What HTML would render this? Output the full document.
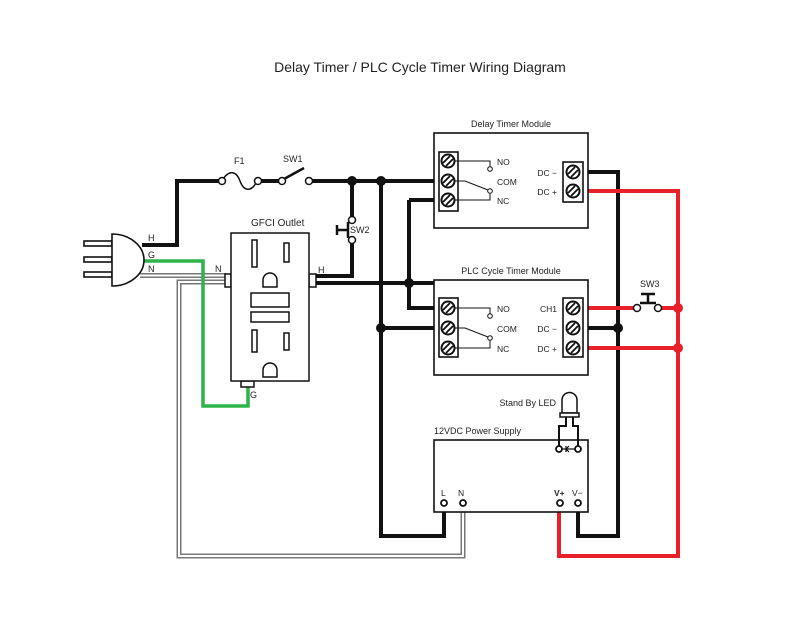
<!DOCTYPE html>
<html><head><style>
html,body{margin:0;padding:0;background:#fff;}
svg{display:block;font-family:"Liberation Sans",sans-serif;}
</style></head><body>
<svg width="800" height="625" viewBox="0 0 800 625" xmlns="http://www.w3.org/2000/svg">
<rect width="800" height="625" fill="#fff"/>
<text x="420" y="72" font-size="14" text-anchor="middle" fill="#222">Delay Timer / PLC Cycle Timer Wiring Diagram</text>

<g fill="none" stroke-linejoin="miter">
<path d="M140 275.5 H226" stroke="#777" stroke-width="5"/>
<path d="M140 275.5 H226" stroke="#fff" stroke-width="2"/>
<path d="M226 282 H179 V556 H463 V503" stroke="#777" stroke-width="5"/>
<path d="M226 282 H179 V556 H463 V503" stroke="#fff" stroke-width="2"/>
</g>
<path d="M142 261 H203 V406 H248 V386" fill="none" stroke="#2db34a" stroke-width="3.5"/>

<g fill="none" stroke="#111" stroke-width="4">
<path d="M142 245 H177 V181 H220"/>
<path d="M309 181 H440"/>
<path d="M352 181 V217"/>
<path d="M352 243 V276 H316"/>
<path d="M316 283 H440"/>
<path d="M409 200 H440"/>
<path d="M409 200 V308 H440"/>
<path d="M381 181 V536 H444 V506"/>
<path d="M381 328 H440"/>
<path d="M583 172 H618 V536 H578 V506"/>
<path d="M583 328 H618"/>
<path d="M259 181 H280"/>
</g>
<g fill="none" stroke="#e8202a" stroke-width="4">
<path d="M583 191 H678 V556 H559 V506"/>
<path d="M583 308 H634"/>
<path d="M661 308 H678"/>
<path d="M583 348 H678"/>
</g>
<circle cx="678" cy="308" r="5" fill="#e8202a"/>
<circle cx="678" cy="348" r="5" fill="#e8202a"/>
<g fill="#111">
<circle cx="352" cy="181" r="5"/><circle cx="381" cy="181" r="5"/>
<circle cx="409" cy="283" r="5"/><circle cx="381" cy="328" r="5"/>
<circle cx="618" cy="328" r="5"/>
</g>

<g stroke="#111" stroke-width="1.6" fill="#fff">
<rect x="84" y="241" width="28" height="5"/>
<rect x="84" y="257" width="28" height="5"/>
<rect x="84" y="272" width="28" height="5"/>
<path d="M112 234 A32 26 0 0 1 112 286 Z"/>
</g>
<g font-size="9" fill="#222">
<text x="148" y="241">H</text><text x="148" y="258">G</text><text x="148" y="272">N</text>
<text x="215" y="272">N</text><text x="318" y="273">H</text><text x="250" y="398">G</text>
<text x="234" y="164">F1</text><text x="283" y="162">SW1</text>
<text x="350" y="233">SW2</text><text x="251" y="226" font-size="10">GFCI Outlet</text>
<text x="640" y="287">SW3</text>
</g>

<g fill="#fff" stroke="#111" stroke-width="1.5">
<path d="M222 181 C228 170 236 170 240 181 C244 192 252 192 257 181" fill="none"/>
<circle cx="222" cy="181" r="3.5"/><circle cx="258" cy="181" r="3.5"/>
<path d="M284 179 L304 168" fill="none" stroke-width="2.5"/>
<circle cx="282" cy="181" r="3.5"/><circle cx="309" cy="181" r="3.5"/>
<path d="M348 222 V238 M348 230 H337 M337 225 V235" fill="none" stroke-width="2.5"/>
<circle cx="352" cy="220" r="3.5"/><circle cx="352" cy="240" r="3.5"/>
<path d="M640 303 H656 M648 303 V294 M641 294 H655" fill="none" stroke-width="2.5"/>
<circle cx="637" cy="308" r="3.5"/><circle cx="658" cy="308" r="3.5"/>
</g>

<g stroke="#111" stroke-width="1.5" fill="#fff">
<rect x="225" y="274" width="6" height="13"/>
<rect x="309" y="274" width="7" height="13"/>
<rect x="241" y="381" width="13" height="6"/>
<rect x="231" y="233" width="78" height="148"/>
<rect x="252" y="240" width="5" height="27"/>
<rect x="284" y="243" width="5" height="19"/>
<path d="M263 287 V280 A7 7 0 0 1 277 280 V287 Z"/>
<rect x="251" y="293" width="38" height="14"/>
<rect x="251" y="312" width="38" height="10"/>
<rect x="252" y="330" width="5" height="22"/>
<rect x="284" y="333" width="5" height="17"/>
<path d="M263 377 V370 A7 7 0 0 1 277 370 V377 Z"/>
</g>

<g stroke="#111" stroke-width="1.6" fill="#fff">
<rect x="434" y="133" width="154" height="95"/>
<rect x="434" y="280" width="154" height="95"/>
<rect x="434" y="440" width="154" height="72"/>
<rect x="439" y="152" width="19" height="59"/>
<rect x="439" y="298" width="19" height="59"/>
<rect x="563" y="162" width="20" height="40"/>
<rect x="563" y="298" width="20" height="59"/>
</g>
<g font-size="9" fill="#222">
<text x="511" y="127" text-anchor="middle">Delay Timer Module</text>
<text x="511" y="274" text-anchor="middle">PLC Cycle Timer Module</text>
<text x="434" y="434">12VDC Power Supply</text>
<text x="556" y="406" text-anchor="end">Stand By LED</text>
</g>
<g stroke="#111" stroke-width="2" fill="#fff">
<circle cx="448" cy="161" r="6.5"/><circle cx="448" cy="181" r="6.5"/><circle cx="448" cy="200" r="6.5"/>
<circle cx="573" cy="172" r="6.5"/><circle cx="573" cy="191" r="6.5"/>
<circle cx="448" cy="308" r="6.5"/><circle cx="448" cy="328" r="6.5"/><circle cx="448" cy="348" r="6.5"/>
<circle cx="573" cy="308" r="6.5"/><circle cx="573" cy="328" r="6.5"/><circle cx="573" cy="348" r="6.5"/>
</g>
<g stroke="#111" stroke-width="1.8">
<path d="M443 163 L450 156 M446 166 L453 159"/>
<path d="M443 183 L450 176 M446 186 L453 179"/>
<path d="M443 202 L450 195 M446 205 L453 198"/>
<path d="M568 174 L575 167 M571 177 L578 170"/>
<path d="M568 193 L575 186 M571 196 L578 189"/>
<path d="M443 310 L450 303 M446 313 L453 306"/>
<path d="M443 330 L450 323 M446 333 L453 326"/>
<path d="M443 350 L450 343 M446 353 L453 346"/>
<path d="M568 310 L575 303 M571 313 L578 306"/>
<path d="M568 330 L575 323 M571 333 L578 326"/>
<path d="M568 350 L575 343 M571 353 L578 346"/>
</g>
<g fill="none" stroke="#111" stroke-width="1">
<path d="M455 161 H490 V167"/><path d="M455 181 H465 L488 190"/><path d="M455 200 H490 V194"/>
<path d="M455 308 H490 V314"/><path d="M455 328 H465 L488 337"/><path d="M455 348 H490 V341"/>
</g>
<g fill="#fff" stroke="#111" stroke-width="1">
<circle cx="490" cy="169" r="2.3"/><circle cx="490" cy="191" r="2.3"/>
<circle cx="490" cy="316" r="2.3"/><circle cx="490" cy="338" r="2.3"/>
</g>
<g font-size="8.5" fill="#222">
<text x="497" y="165">NO</text><text x="497" y="185">COM</text><text x="497" y="204">NC</text>
<text x="497" y="312">NO</text><text x="497" y="332">COM</text><text x="497" y="352">NC</text>
<text x="557" y="176" text-anchor="end">DC −</text><text x="557" y="195" text-anchor="end">DC +</text>
<text x="557" y="312" text-anchor="end">CH1</text><text x="557" y="332" text-anchor="end">DC −</text><text x="557" y="352" text-anchor="end">DC +</text>
<text x="441" y="496">L</text><text x="458" y="496">N</text>
<text x="554" y="496" font-weight="bold">V+</text><text x="572" y="496">V−</text>
</g>
<g fill="none" stroke="#111" stroke-width="2">
<path d="M566 417 V426 H559 V446"/><path d="M573 417 V426 H578 V446"/>
</g>
<g fill="#fff" stroke="#111" stroke-width="1.5">
<path d="M562 413 V400 A7.5 7.5 0 0 1 577 400 V413 Z"/>
<rect x="560" y="413" width="19" height="4"/>
</g>
<path d="M562 449 H575 M566 446 V452 M569 446 L566 449 L569 452" stroke="#111" stroke-width="1.2" fill="none"/>
<g fill="#fff" stroke="#111" stroke-width="1.8">
<circle cx="559" cy="449" r="3"/><circle cx="578" cy="449" r="3"/>
<circle cx="444" cy="503" r="3"/><circle cx="463" cy="503" r="3"/>
<circle cx="560" cy="503" r="3"/><circle cx="578" cy="503" r="3"/>
</g>
</svg>
</body></html>
